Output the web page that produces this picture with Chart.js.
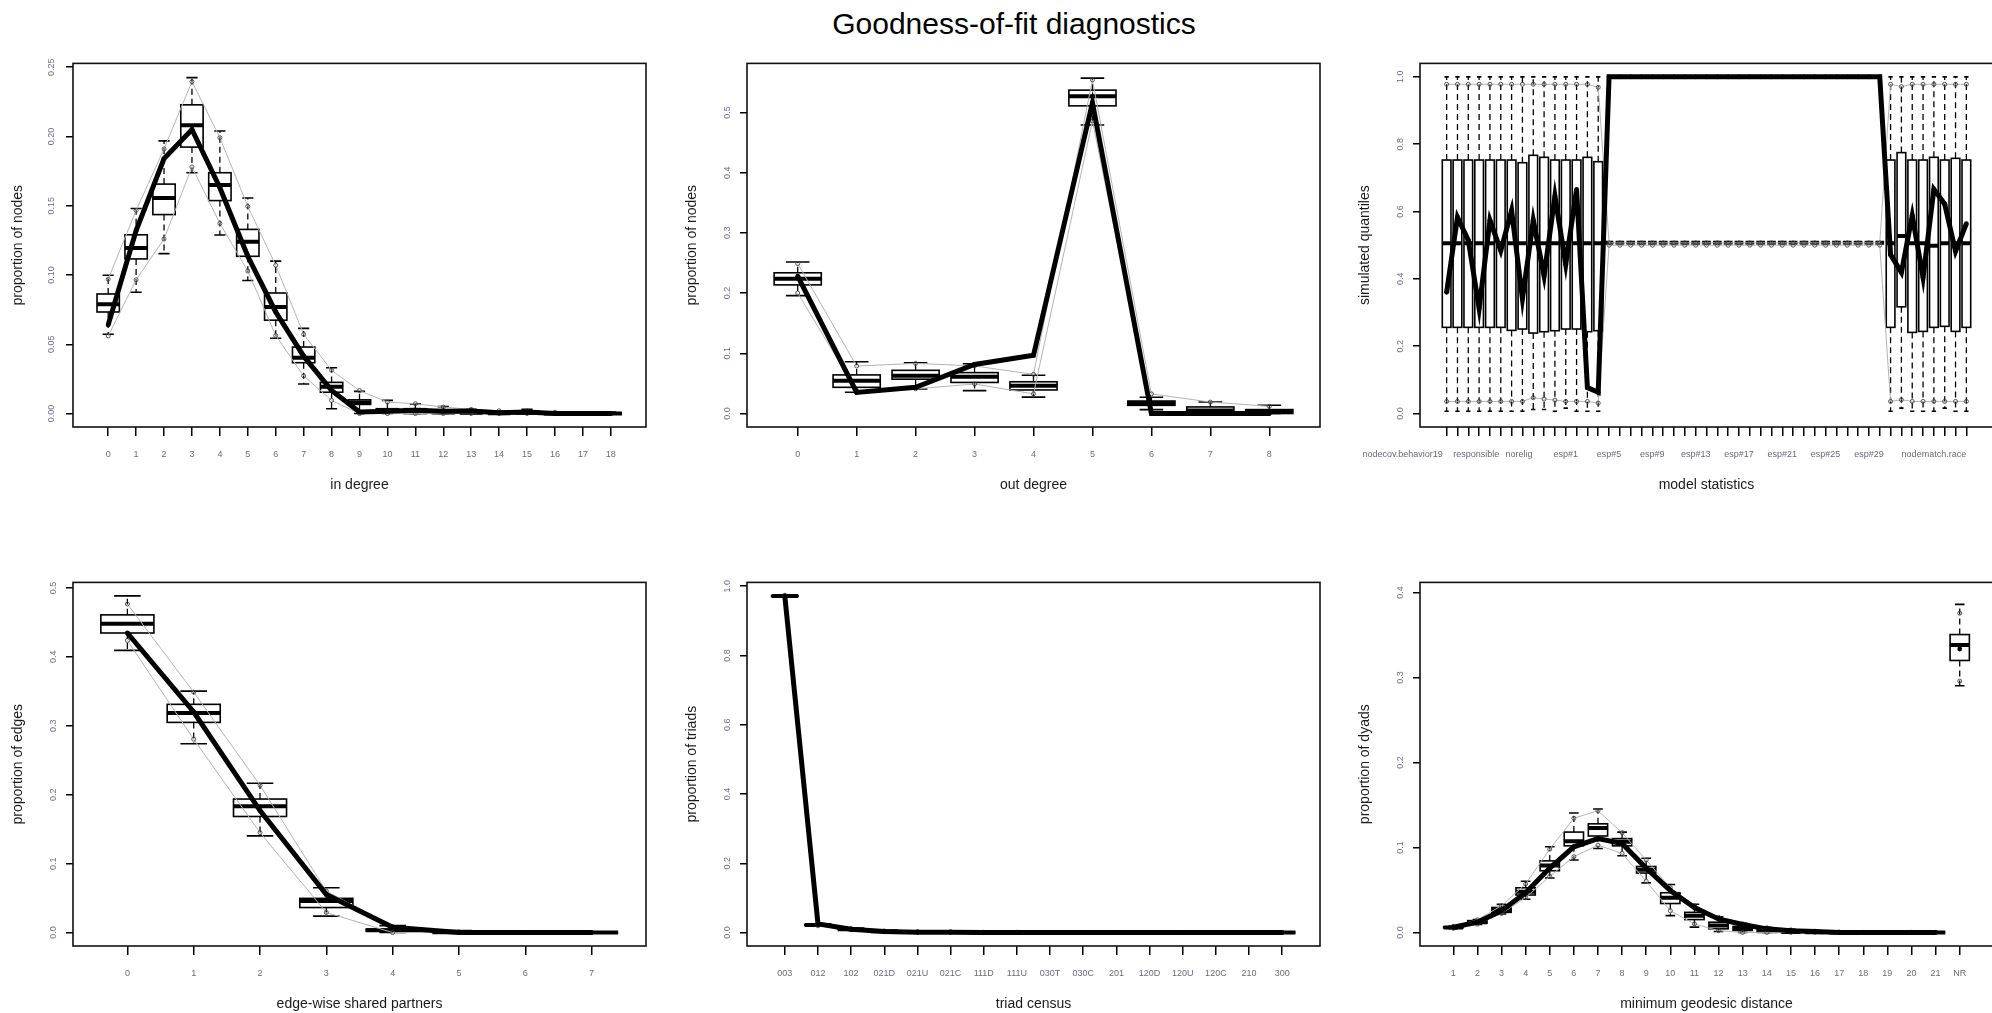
<!DOCTYPE html>
<html>
<head>
<meta charset="utf-8">
<title>Goodness-of-fit diagnostics</title>
<script src="https://cdn.jsdelivr.net/npm/chart.js@4.4.1/dist/chart.umd.min.js"></script>
<style>
  body { margin: 0; background: #fff; width: 1992px; height: 1013px; overflow: hidden; position: relative;
         font-family: "Liberation Sans", Arial, sans-serif; }
  #title { position: absolute; left: 0; width: 2028px; top: 8px; text-align: center;
           font-size: 30px; line-height: 32px; color: #000; }
  canvas { position: absolute; }
</style>
</head>
<body>
<div id="title">Goodness-of-fit diagnostics</div>
<canvas id="c-indeg"  width="650" height="445" style="left:1px;top:52px"></canvas>
<canvas id="c-outdeg" width="650" height="445" style="left:675px;top:52px"></canvas>
<canvas id="c-model"  width="650" height="445" style="left:1348px;top:52px"></canvas>
<canvas id="c-esp"    width="650" height="445" style="left:1px;top:571px"></canvas>
<canvas id="c-triad"  width="650" height="445" style="left:675px;top:571px"></canvas>
<canvas id="c-dist"   width="650" height="445" style="left:1348px;top:571px"></canvas>
<script>
// ---- in degree ----
var inDegLabels = ['0','1','2','3','4','5','6','7','8','9','10','11','12','13','14','15','16','17','18'];
var inDegObs   = [0.064, 0.132, 0.184, 0.205, 0.163, 0.1135, 0.0733, 0.0414, 0.0166, 0.0012, 0.0017, 0.0024, 0.0017, 0.0019, 0.0005, 0.0012, 0, 0, 0];
var inDegMed   = [0.0788, 0.1194, 0.1556, 0.2081, 0.1649, 0.1239, 0.0769, 0.0402, 0.0194, 0.008, 0.0025, 0.002, 0.001, 0.0005, 0.0003, 0.0005, 0, 0, 0];
var inDegQ1    = [0.0733, 0.1116, 0.1436, 0.1923, 0.1537, 0.1135, 0.0674, 0.0367, 0.0154, 0.0066, 0.001, 0, 0, 0, 0, 0, 0, 0, 0];
var inDegQ3    = [0.0863, 0.129, 0.1656, 0.2228, 0.1738, 0.1329, 0.087, 0.048, 0.0225, 0.0099, 0.0035, 0.0035, 0.0025, 0.002, 0.001, 0.002, 0.0005, 0.0003, 0];
var inDegWhiskLo = [0.0572, 0.0875, 0.1154, 0.1738, 0.1289, 0.096, 0.0544, 0.0213, 0.0035, 0, 0, 0, 0, 0, 0, 0, 0, 0, 0];
var inDegWhiskHi = [0.0998, 0.148, 0.1968, 0.2424, 0.2039, 0.1556, 0.11, 0.0615, 0.0331, 0.016, 0.0095, 0.007, 0.005, 0.003, 0.002, 0.003, 0.001, 0.001, 0.001];
var inDegHi    = [0.097, 0.1466, 0.191, 0.2396, 0.1991, 0.1495, 0.107, 0.0572, 0.0312, 0.0166, 0.0083, 0.0071, 0.0047, 0.003, 0.002, 0.002, 0.001, 0, 0];
var inDegLo    = [0.056, 0.0965, 0.126, 0.178, 0.1372, 0.1029, 0.0563, 0.0272, 0.0095, 0, 0, 0, 0, 0, 0, 0, 0, 0, 0];
var inDegTicks = [0, 0.05, 0.10, 0.15, 0.20, 0.25];

// ---- out degree ----
var outDegLabels = ['0','1','2','3','4','5','6','7','8'];
var outDegObs   = [0.228, 0.035, 0.0435, 0.0815, 0.0967, 0.516, 0, 0, 0];
var outDegMed   = [0.2239, 0.0543, 0.0625, 0.0609, 0.0462, 0.527, 0.017, 0.005, 0.003];
var outDegQ1    = [0.2136, 0.0435, 0.057, 0.0516, 0.0391, 0.5109, 0.0136, 0, 0];
var outDegQ3    = [0.2337, 0.0641, 0.0717, 0.0679, 0.0527, 0.537, 0.0207, 0.0109, 0.0065];
var outDegWhiskLo = [0.1957, 0.0353, 0.0408, 0.038, 0.0272, 0.479, 0.0065, 0, 0];
var outDegWhiskHi = [0.2516, 0.0859, 0.0842, 0.0826, 0.0636, 0.557, 0.027, 0.019, 0.0136];
var outDegHi    = [0.249, 0.0788, 0.0832, 0.079, 0.065, 0.554, 0.0326, 0.019, 0.012];
var outDegLo    = [0.2, 0.038, 0.041, 0.049, 0.0326, 0.486, 0.002, 0, 0];
var outDegTicks = [0, 0.1, 0.2, 0.3, 0.4, 0.5];

// ---- model statistics (49 terms, only some labels printed) ----
var modelLabels = ['nodecov.behavior19', 'responsible', 'norelig', 'esp#1', 'esp#5', 'esp#9', 'esp#13',
                   'esp#17', 'esp#21', 'esp#25', 'esp#29', 'nodematch.race'];
var modelLabelAt = [-4.06, 2.73, 6.69, 11, 15, 19, 23, 27, 31, 35, 39, 45];
var modelObs = [0.36, 0.583, 0.515, 0.312, 0.574, 0.484, 0.603, 0.341, 0.574, 0.409, 0.646, 0.443, 0.666, 0.077, 0.063,
  1, 1, 1, 1, 1, 1, 1, 1, 1, 1, 1, 1, 1, 1, 1, 1, 1, 1, 1, 1, 1, 1, 1, 1, 1, 1,
  0.472, 0.419, 0.588, 0.404, 0.666, 0.622, 0.482, 0.564];
var modelMed = [0.506, 0.506, 0.506, 0.506, 0.506, 0.506, 0.506, 0.506, 0.506, 0.506, 0.506, 0.506, 0.506, 0.506, 0.506,
  0.507, 0.507, 0.507, 0.507, 0.507, 0.507, 0.507, 0.507, 0.507, 0.507, 0.507, 0.507, 0.507, 0.507, 0.507, 0.507,
  0.507, 0.507, 0.507, 0.507, 0.507, 0.507, 0.507, 0.507, 0.507, 0.507,
  0.506, 0.527, 0.506, 0.506, 0.498, 0.506, 0.506, 0.506];
var modelQ1 = [0.256, 0.256, 0.256, 0.256, 0.256, 0.256, 0.247, 0.251, 0.239, 0.243, 0.246, 0.251, 0.251, 0.243, 0.246,
  0.507, 0.507, 0.507, 0.507, 0.507, 0.507, 0.507, 0.507, 0.507, 0.507, 0.507, 0.507, 0.507, 0.507, 0.507, 0.507,
  0.507, 0.507, 0.507, 0.507, 0.507, 0.507, 0.507, 0.507, 0.507, 0.507,
  0.256, 0.317, 0.241, 0.244, 0.256, 0.259, 0.244, 0.256];
var modelQ3 = [0.753, 0.753, 0.753, 0.753, 0.753, 0.753, 0.753, 0.745, 0.767, 0.761, 0.753, 0.753, 0.753, 0.761, 0.748,
  0.507, 0.507, 0.507, 0.507, 0.507, 0.507, 0.507, 0.507, 0.507, 0.507, 0.507, 0.507, 0.507, 0.507, 0.507, 0.507,
  0.507, 0.507, 0.507, 0.507, 0.507, 0.507, 0.507, 0.507, 0.507, 0.507,
  0.753, 0.775, 0.753, 0.753, 0.761, 0.753, 0.758, 0.753];
var modelWhiskLo = [0.007, 0.007, 0.007, 0.007, 0.007, 0.007, 0.007, 0.007, 0.012, 0.012, 0.007, 0.016, 0.007, 0.007, 0.007,
  0.507, 0.507, 0.507, 0.507, 0.507, 0.507, 0.507, 0.507, 0.507, 0.507, 0.507, 0.507, 0.507, 0.507, 0.507, 0.507,
  0.507, 0.507, 0.507, 0.507, 0.507, 0.507, 0.507, 0.507, 0.507, 0.507,
  0.007, 0.016, 0.007, 0.007, 0.007, 0.016, 0.007, 0.007];
var modelWhiskHi = [1, 1, 1, 1, 1, 1, 1, 1, 1, 1, 1, 1, 1, 1, 1,
  0.507, 0.507, 0.507, 0.507, 0.507, 0.507, 0.507, 0.507, 0.507, 0.507, 0.507, 0.507, 0.507, 0.507, 0.507, 0.507,
  0.507, 0.507, 0.507, 0.507, 0.507, 0.507, 0.507, 0.507, 0.507, 0.507,
  1, 1, 1, 1, 1, 1, 1, 1];
var modelHi = [0.978, 0.978, 0.978, 0.978, 0.978, 0.978, 0.978, 0.978, 0.978, 0.978, 0.978, 0.978, 0.978, 0.978, 0.969,
  0.507, 0.507, 0.507, 0.507, 0.507, 0.507, 0.507, 0.507, 0.507, 0.507, 0.507, 0.507, 0.507, 0.507, 0.507, 0.507,
  0.507, 0.507, 0.507, 0.507, 0.507, 0.507, 0.507, 0.507, 0.507, 0.507,
  0.978, 0.971, 0.978, 0.978, 0.978, 0.978, 0.978, 0.978];
var modelLo = [0.036, 0.036, 0.036, 0.036, 0.036, 0.036, 0.036, 0.036, 0.047, 0.043, 0.04, 0.036, 0.036, 0.036, 0.031,
  0.5, 0.5, 0.5, 0.5, 0.5, 0.5, 0.5, 0.5, 0.5, 0.5, 0.5, 0.5, 0.5, 0.5, 0.5, 0.5,
  0.5, 0.5, 0.5, 0.5, 0.5, 0.5, 0.5, 0.5, 0.5, 0.5,
  0.036, 0.041, 0.036, 0.036, 0.036, 0.036, 0.036, 0.036];
var modelTicks = [0, 0.2, 0.4, 0.6, 0.8, 1.0];

// ---- edge-wise shared partners ----
var espLabels = ['0','1','2','3','4','5','6','7'];
var espObs   = [0.4346, 0.32, 0.177, 0.0553, 0.0076, 0, 0, 0];
var espMed   = [0.448, 0.3187, 0.1832, 0.0458, 0.0035, 0.0003, 0, 0];
var espQ1    = [0.4346, 0.3049, 0.1684, 0.0363, 0.002, 0, 0, 0];
var espQ3    = [0.4609, 0.3311, 0.1937, 0.0496, 0.005, 0.001, 0, 0];
var espWhiskLo = [0.4094, 0.2739, 0.1403, 0.0239, 0, 0, 0, 0];
var espWhiskHi = [0.4885, 0.3502, 0.2166, 0.0649, 0.01, 0.003, 0.001, 0];
var espHi    = [0.4766, 0.3488, 0.2137, 0.0601, 0.0086, 0.001, 0, 0];
var espLo    = [0.4237, 0.2805, 0.145, 0.0291, 0, 0, 0, 0];
var espTicks = [0, 0.1, 0.2, 0.3, 0.4, 0.5];

// ---- triad census ----
var triadLabels = ['003','012','102','021D','021U','021C','111D','111U','030T','030C','201','120D','120U','120C','210','300'];
var triadObs   = [0.972, 0.025, 0.0095, 0.003, 0.001, 0.001, 0.0003, 0.0003, 0.0001, 0, 0.0001, 0, 0, 0, 0, 0];
var triadMed   = [0.9715, 0.0218, 0.0098, 0.0035, 0.0018, 0.0016, 0.0005, 0.0004, 0.0001, 0, 0.0001, 0, 0, 0, 0, 0];
var triadQ1    = [0.9705, 0.0208, 0.009, 0.003, 0.0014, 0.0012, 0.0003, 0.0003, 0, 0, 0, 0, 0, 0, 0, 0];
var triadQ3    = [0.9725, 0.0228, 0.0106, 0.004, 0.0022, 0.002, 0.0007, 0.0006, 0.0002, 0, 0.0002, 0, 0, 0, 0, 0];
var triadWhiskLo = [0.9685, 0.019, 0.0075, 0.0022, 0.0008, 0.0006, 0, 0, 0, 0, 0, 0, 0, 0, 0, 0];
var triadWhiskHi = [0.9745, 0.0245, 0.0121, 0.005, 0.003, 0.0028, 0.0012, 0.001, 0.0005, 0.0001, 0.0004, 0, 0, 0, 0, 0];
var triadHi    = [0.9738, 0.024, 0.0117, 0.0047, 0.0028, 0.0026, 0.001, 0.0009, 0.0004, 0, 0.0003, 0, 0, 0, 0, 0];
var triadLo    = [0.9692, 0.0195, 0.0079, 0.0025, 0.001, 0.0008, 0, 0, 0, 0, 0, 0, 0, 0, 0, 0];
var triadTicks = [0, 0.2, 0.4, 0.6, 0.8, 1.0];

// ---- minimum geodesic distance ----
var distLabels = ['1','2','3','4','5','6','7','8','9','10','11','12','13','14','15','16','17','18','19','20','21','NR'];
var distObs   = [0.006, 0.012, 0.0255, 0.0467, 0.0757, 0.1008, 0.1104, 0.1046, 0.0757, 0.0494, 0.0293, 0.0158, 0.0093, 0.0042, 0.002, 0.001, 0, 0, 0, 0, 0, 0.3336];
var distMed   = [0.0058, 0.012, 0.0263, 0.0479, 0.0788, 0.1073, 0.1228, 0.1066, 0.0737, 0.0409, 0.0197, 0.0081, 0.004, 0.002, 0.0005, 0.0002, 0, 0, 0, 0, 0, 0.3382];
var distQ1    = [0.0052, 0.0108, 0.0236, 0.044, 0.0726, 0.1019, 0.1135, 0.1019, 0.0699, 0.034, 0.0151, 0.0042, 0.0023, 0, 0, 0, 0, 0, 0, 0, 0, 0.3201];
var distQ3    = [0.0066, 0.0139, 0.0293, 0.0525, 0.0842, 0.1181, 0.1278, 0.1104, 0.0776, 0.0467, 0.0236, 0.012, 0.007, 0.0042, 0.002, 0.001, 0, 0, 0, 0, 0, 0.3506];
var distWhiskLo = [0.0045, 0.0095, 0.0216, 0.039, 0.0641, 0.0853, 0.0988, 0.0903, 0.0583, 0.0197, 0.0062, 0.001, 0, 0, 0, 0, 0, 0, 0, 0, 0, 0.2903];
var distWhiskHi = [0.0075, 0.0152, 0.033, 0.0602, 0.1008, 0.1405, 0.1452, 0.1181, 0.0873, 0.0564, 0.0332, 0.0185, 0.0108, 0.006, 0.004, 0.002, 0.001, 0.0005, 0, 0, 0, 0.3861];
var distHi    = [0.0072, 0.0148, 0.0315, 0.0571, 0.098, 0.1344, 0.1432, 0.1174, 0.0853, 0.0525, 0.0313, 0.0178, 0.01, 0.0055, 0.003, 0.0015, 0.0005, 0, 0, 0, 0, 0.3757];
var distLo    = [0.0048, 0.0098, 0.0222, 0.041, 0.066, 0.0892, 0.1027, 0.093, 0.0602, 0.0255, 0.01, 0.002, 0, 0, 0, 0, 0, 0, 0, 0, 0, 0.2958];
var distTicks = [0, 0.1, 0.2, 0.3, 0.4];

var Y_TICK_COLOR = '#6c6c8e';
var X_TICK_COLOR = '#6a6a78';

function seg(ctx, x1, y1, x2, y2) {
  ctx.beginPath();
  ctx.moveTo(x1, y1);
  ctx.lineTo(x2, y2);
  ctx.stroke();
}

// line points, with an optional break before one category (NR is not joined)
function linePoints(values, breakBefore) {
  var pts = [];
  for (var i = 0; i < values.length; i++) {
    if (i === breakBefore) pts.push({x: i - 0.5, y: null});
    pts.push({x: i, y: values[i]});
  }
  return pts;
}

function makePanel(id, p) {
  var n = p.labels.length;
  var pad = 0.04 * n;

  // boxplots underneath, frame on top
  var boxes = {
    id: 'boxes',
    beforeDatasetsDraw: function(chart) {
      var ctx = chart.ctx, a = chart.chartArea, x = chart.scales.x, y = chart.scales.y;
      var half = 0.4 * (x.getPixelForValue(1) - x.getPixelForValue(0));
      ctx.save();
      ctx.beginPath();
      ctx.rect(a.left, a.top, a.right - a.left, a.bottom - a.top);
      ctx.clip();
      ctx.strokeStyle = '#000';
      for (var i = 0; i < n; i++) {
        var cx = x.getPixelForValue(i);
        var yLo = y.getPixelForValue(p.whiskLo[i]), yHi = y.getPixelForValue(p.whiskHi[i]);
        var y1 = y.getPixelForValue(p.q1[i]), y3 = y.getPixelForValue(p.q3[i]), ym = y.getPixelForValue(p.med[i]);
        ctx.lineWidth = 1.3;
        ctx.setLineDash([6, 4]);
        seg(ctx, cx, y3, cx, yHi);
        seg(ctx, cx, y1, cx, yLo);
        ctx.setLineDash([]);
        ctx.lineWidth = 1.6;
        seg(ctx, cx - half / 2, yHi, cx + half / 2, yHi);
        seg(ctx, cx - half / 2, yLo, cx + half / 2, yLo);
        ctx.fillStyle = '#fff';
        ctx.fillRect(cx - half, y3, 2 * half, y1 - y3);
        ctx.strokeRect(cx - half, y3, 2 * half, y1 - y3);
        ctx.lineWidth = 4;
        seg(ctx, cx - half, ym, cx + half, ym);
      }
      ctx.restore();
    },
    afterDraw: function(chart) {
      var ctx = chart.ctx, a = chart.chartArea;
      ctx.save();
      ctx.strokeStyle = '#111';
      ctx.lineWidth = 1.6;
      ctx.strokeRect(a.left, a.top, a.right - a.left, a.bottom - a.top);
      ctx.restore();
    }
  };

  var scales = {
    x: {
      type: 'linear', bounds: 'data', min: -0.5 - pad, max: n - 0.5 + pad,
      afterBuildTicks: function(s) { s.ticks = p.labels.map(function(l, i) { return {value: i}; }); },
      ticks: {
        autoSkip: false, maxRotation: 0, minRotation: 0, padding: 13,
        color: X_TICK_COLOR, font: {size: 9, family: 'Liberation Sans'},
        callback: function(v) { return p.freeLabels ? '' : p.labels[Math.round(v)]; }
      },
      grid: {drawOnChartArea: false, drawTicks: true, tickLength: 9, color: '#000', lineWidth: 1.5},
      border: {display: false},
      title: {display: !p.freeLabels, text: p.xTitle, color: '#1a1a1a',
              font: {size: 14, family: 'Liberation Sans'}, padding: {top: 0, bottom: 3}},
      afterFit: function(s) { s.height = p.freeLabels ? 10 : 70; }
    },
    y: {
      type: 'linear', bounds: 'data', min: p.yMin, max: p.yMax,
      afterBuildTicks: function(s) { s.ticks = p.yTicks.map(function(v) { return {value: v}; }); },
      ticks: {
        minRotation: 90, maxRotation: 90, crossAlign: 'center', padding: 6,
        color: Y_TICK_COLOR, font: {size: 9, family: 'Liberation Sans'},
        callback: function(v) { return v.toFixed(p.yDec); }
      },
      grid: {drawOnChartArea: false, drawTicks: true, tickLength: 7, color: '#000', lineWidth: 1.5},
      border: {display: false},
      title: {display: true, text: p.yTitle, color: '#1a1a1a',
              font: {size: 14, family: 'Liberation Sans'}, padding: {top: 9, bottom: 0}},
      afterFit: function(s) { s.width = 72; }
    }
  };

  // model statistics: printed names do not sit on the ticks, so they get their own axis
  if (p.freeLabels) {
    scales.xl = {
      type: 'linear', position: 'bottom', weight: 1, bounds: 'data', min: -0.5 - pad, max: n - 0.5 + pad,
      afterBuildTicks: function(s) { s.ticks = p.freeAt.map(function(v) { return {value: v}; }); },
      ticks: {
        autoSkip: false, maxRotation: 0, minRotation: 0, padding: 12,
        color: X_TICK_COLOR, font: {size: 9, family: 'Liberation Sans'},
        callback: function(v, i) { return p.freeLabels[i]; }
      },
      grid: {display: false, drawTicks: false},
      border: {display: false},
      title: {display: true, text: p.xTitle, color: '#1a1a1a',
              font: {size: 14, family: 'Liberation Sans'}, padding: {top: 0, bottom: 3}},
      afterFit: function(s) { s.height = 60; }
    };
  }

  var grey = {
    borderColor: '#b4b4b4', borderWidth: 1, pointRadius: 2, pointStyle: 'circle',
    pointBackgroundColor: 'rgba(0,0,0,0)', pointBorderColor: '#444', pointBorderWidth: 0.9, order: 1
  };

  return new Chart(document.getElementById(id), {
    type: 'line',
    data: {
      datasets: [
        {data: linePoints(p.obs, p.breakBefore), borderColor: '#000', borderWidth: 5,
         pointRadius: 2.4, pointBackgroundColor: '#000', pointBorderWidth: 0, order: 0},
        Object.assign({data: linePoints(p.hi, p.breakBefore)}, grey),
        Object.assign({data: linePoints(p.lo, p.breakBefore)}, grey)
      ]
    },
    options: {
      responsive: false, animation: false, events: [],
      layout: {padding: {top: 5, right: 5, left: 0, bottom: 0}},
      plugins: {legend: {display: false}, tooltip: {enabled: false}},
      scales: scales
    },
    plugins: [boxes]
  });
}

makePanel('c-indeg', {
  labels: inDegLabels, obs: inDegObs, med: inDegMed, q1: inDegQ1, q3: inDegQ3,
  whiskLo: inDegWhiskLo, whiskHi: inDegWhiskHi, hi: inDegHi, lo: inDegLo,
  yMin: -0.0097, yMax: 0.2527, yTicks: inDegTicks, yDec: 2,
  xTitle: 'in degree', yTitle: 'proportion of nodes'
});
makePanel('c-outdeg', {
  labels: outDegLabels, obs: outDegObs, med: outDegMed, q1: outDegQ1, q3: outDegQ3,
  whiskLo: outDegWhiskLo, whiskHi: outDegWhiskHi, hi: outDegHi, lo: outDegLo,
  yMin: -0.0224, yMax: 0.5814, yTicks: outDegTicks, yDec: 1,
  xTitle: 'out degree', yTitle: 'proportion of nodes'
});
makePanel('c-model', {
  labels: modelObs, obs: modelObs, med: modelMed, q1: modelQ1, q3: modelQ3,
  whiskLo: modelWhiskLo, whiskHi: modelWhiskHi, hi: modelHi, lo: modelLo,
  freeLabels: modelLabels, freeAt: modelLabelAt,
  yMin: -0.04, yMax: 1.04, yTicks: modelTicks, yDec: 1,
  xTitle: 'model statistics', yTitle: 'simulated quantiles'
});
makePanel('c-esp', {
  labels: espLabels, obs: espObs, med: espMed, q1: espQ1, q3: espQ3,
  whiskLo: espWhiskLo, whiskHi: espWhiskHi, hi: espHi, lo: espLo,
  yMin: -0.0195, yMax: 0.508, yTicks: espTicks, yDec: 1,
  xTitle: 'edge-wise shared partners', yTitle: 'proportion of edges'
});
makePanel('c-triad', {
  labels: triadLabels, obs: triadObs, med: triadMed, q1: triadQ1, q3: triadQ3,
  whiskLo: triadWhiskLo, whiskHi: triadWhiskHi, hi: triadHi, lo: triadLo,
  yMin: -0.0389, yMax: 1.011, yTicks: triadTicks, yDec: 1,
  xTitle: 'triad census', yTitle: 'proportion of triads'
});
makePanel('c-dist', {
  labels: distLabels, obs: distObs, med: distMed, q1: distQ1, q3: distQ3,
  whiskLo: distWhiskLo, whiskHi: distWhiskHi, hi: distHi, lo: distLo,
  breakBefore: 21,
  yMin: -0.016, yMax: 0.412, yTicks: distTicks, yDec: 1,
  xTitle: 'minimum geodesic distance', yTitle: 'proportion of dyads'
});
</script>
</body>
</html>
